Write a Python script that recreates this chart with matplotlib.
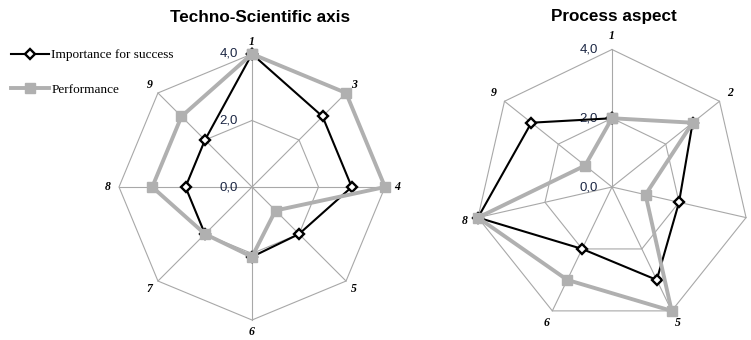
import numpy as np
import matplotlib

matplotlib.use("Agg")
import matplotlib.pyplot as plt

W, H, DPI = 751, 340, 100

# Techno-Scientific axis (categories clockwise from the top)
TECH_LABELS = ["1", "3", "4", "5", "6", "7", "8", "9"]
TECH_IMPORTANCE = [4.0, 3.0, 3.0, 2.0, 2.1, 2.0, 2.0, 2.0]
TECH_PERFORMANCE = [4.0, 4.0, 4.0, 1.0, 2.1, 2.0, 3.0, 3.0]

# Process aspect (third label is cut off at the right edge of the picture)
PROC_LABELS = ["1", "2", "", "5", "6", "8", "9"]
PROC_IMPORTANCE = [2.0, 3.0, 2.0, 3.0, 2.0, 4.0, 3.0]
PROC_PERFORMANCE = [2.0, 3.0, 1.0, 4.0, 3.0, 4.0, 1.0]

R_TICKS = [0.0, 2.0, 4.0]
R_TICK_LABELS = ["0,0", "2,0", "4,0"]
R_MAX = 4.0

GRID = "#a8a8a8"
GREY = "#b0b0b0"
TICK_COLOR = "#1c2744"
SERIF = "Liberation Serif"
SANS = "Liberation Sans"


def radar_axes(fig, cx, cy, r_px, half=165):
    ax = fig.add_axes([(cx - half) / W, 1 - (cy + half) / H, 2 * half / W, 2 * half / H])
    lim = half / r_px * R_MAX
    ax.set_xlim(-lim, lim)
    ax.set_ylim(-lim, lim)
    ax.axis("off")
    return ax


def draw_radar(ax, labels, importance, performance, label_r=4.35):
    n = len(labels)
    ang = np.pi / 2 - 2 * np.pi * np.arange(n) / n
    ang_c = np.append(ang, ang[0])

    def closed(vals):
        v = np.append(vals, vals[0])
        return v * np.cos(ang_c), v * np.sin(ang_c)

    for r in R_TICKS[1:]:
        ax.plot(r * np.cos(ang_c), r * np.sin(ang_c), color=GRID, lw=0.8, zorder=1)
    for a in ang:
        ax.plot([0, R_MAX * np.cos(a)], [0, R_MAX * np.sin(a)], color=GRID, lw=0.8, zorder=1)

    for r, s in zip(R_TICKS, R_TICK_LABELS):
        ax.annotate(s, xy=(0, r), xytext=(-10, 0), textcoords="offset points",
                    ha="right", va="center", fontsize=9.5, family=SANS,
                    color=TICK_COLOR, zorder=2)

    for a, lab in zip(ang, labels):
        ax.text(label_r * np.cos(a), label_r * np.sin(a), lab, ha="center", va="center",
                fontsize=8.5, family=SERIF, fontweight="bold", fontstyle="italic", zorder=2)

    x, y = closed(importance)
    ax.plot(x, y, color="black", lw=1.5, marker="D", markersize=5.5, mfc="white",
            mec="black", mew=1.7, zorder=3, label="Importance for success")
    x, y = closed(performance)
    ax.plot(x, y, color=GREY, lw=2.8, marker="s", markersize=6.5, mfc=GREY,
            mec=GREY, zorder=4, label="Performance")


fig = plt.figure(figsize=(W / DPI, H / DPI), dpi=DPI, facecolor="white")

ax_a = radar_axes(fig, 252, 187, 133)
draw_radar(ax_a, TECH_LABELS, TECH_IMPORTANCE, TECH_PERFORMANCE)

ax_b = radar_axes(fig, 612, 187, 137.5)
draw_radar(ax_b, PROC_LABELS, PROC_IMPORTANCE, PROC_PERFORMANCE, label_r=4.4)

fig.text(260 / W, 1 - 17 / H, "Techno-Scientific axis", fontsize=12.3, family=SANS,
         fontweight="bold", ha="center", va="center")
fig.text(614 / W, 1 - 17 / H, "Process aspect", fontsize=12.3, family=SANS,
         fontweight="bold", ha="center", va="center")

handles, texts = ax_a.get_legend_handles_labels()
fig.legend(handles, texts, loc="upper left", bbox_to_anchor=(11 / W, 1 - 49 / H),
           frameon=False, prop={"family": SERIF, "size": 9.5}, handlelength=2.9,
           handletextpad=0.15, labelspacing=1.7, borderaxespad=0, borderpad=0)

fig.savefig("out.png", dpi=DPI, facecolor="white")
